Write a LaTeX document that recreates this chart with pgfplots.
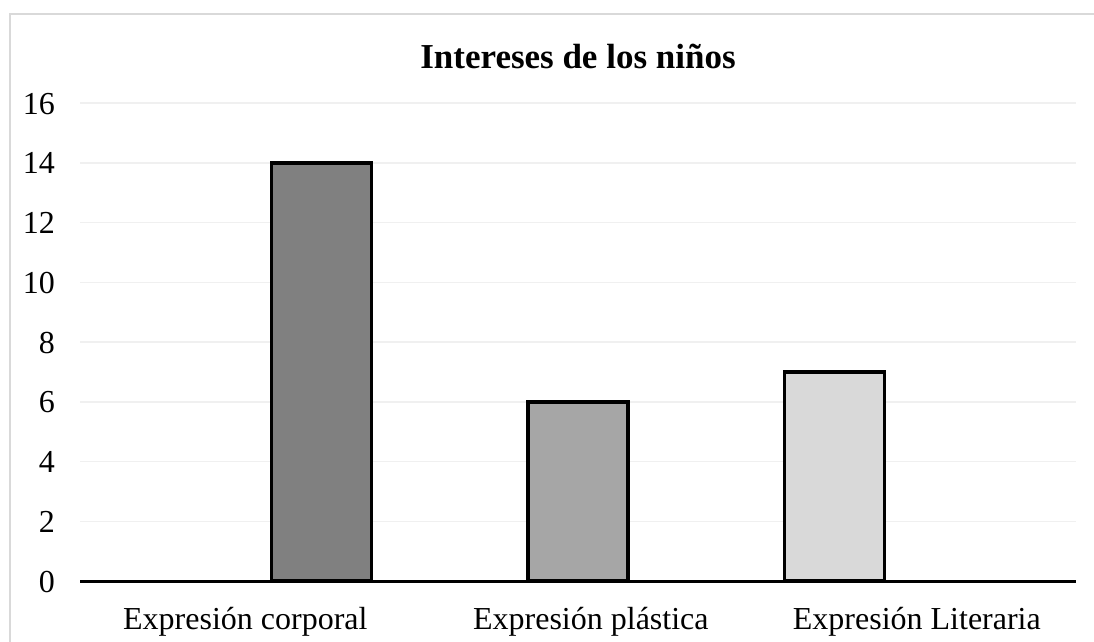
\documentclass[border=0pt]{standalone}
\usepackage{fontspec}
\setmainfont{Liberation Serif}
\usepackage{pgfplots}
\pgfplotsset{compat=1.18}
\definecolor{barA}{RGB}{128,128,128}
\definecolor{barB}{RGB}{166,166,166}
\definecolor{barC}{RGB}{217,217,217}
\definecolor{gridc}{RGB}{240,240,240}
\definecolor{frame}{RGB}{217,217,217}
\begin{document}
\begin{tikzpicture}[x=1pt,y=1pt]
\useasboundingbox (0,0) rectangle (1094,641);
\fill[white] (0,0) rectangle (1094,641);
\draw[color=frame, line width=1.5pt] (10,-20) -- (10,627) -- (1120,627);
\begin{axis}[
  at={(80pt,60pt)}, anchor=south west,
  width=996pt, height=478pt, scale only axis,
  xmin=-0.94, xmax=2.94, ymin=0, ymax=16,
  ytick={0,2,...,16},
  xtick={-0.296,1.05,2.32},
  xticklabels={Expresión corporal, Expresión plástica, Expresión Literaria},
  /pgf/number format/assume math mode=true,
  axis lines*=left,
  y axis line style={draw=none},
  x axis line style={black, line width=3pt, -},
  major tick length=0pt,
  ymajorgrids=true,
  grid style={gridc, line width=1.5pt},
  yticklabel style={font=\fontsize{32}{32}\selectfont, inner sep=0pt, anchor=base east, xshift=-25pt, yshift=-11pt},
  xticklabel style={font=\fontsize{32}{32}\selectfont, inner sep=0pt, anchor=base, yshift=-48pt},
  title={\textbf{Intereses de los niños}},
  title style={font=\fontsize{35}{35}\selectfont, inner sep=0pt, anchor=base, at={(0.5,1)}, yshift=29pt},
  clip=false,
]
\addplot[ybar, bar shift=0pt, bar width=100pt, fill=barA, draw=black, line width=3.5pt] coordinates {(0,14)};
\addplot[ybar, bar shift=0pt, bar width=100pt, fill=barB, draw=black, line width=3.5pt] coordinates {(1,6)};
\addplot[ybar, bar shift=0pt, bar width=100pt, fill=barC, draw=black, line width=3.5pt] coordinates {(2,7)};
\end{axis}
\end{tikzpicture}
\end{document}
